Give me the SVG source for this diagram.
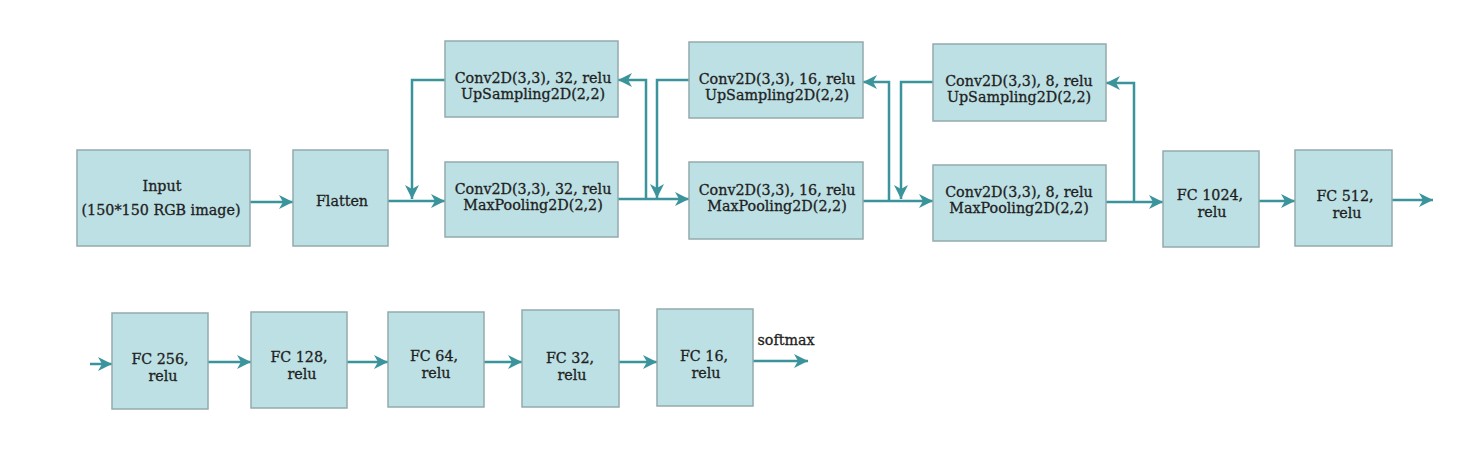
<svg xmlns="http://www.w3.org/2000/svg" width="1471" height="457" viewBox="0 0 1471 457">
<style>
.box{fill:#bde0e4;stroke:#93aaad;stroke-width:1.5}
.t{font-family:"DejaVu Serif","Liberation Serif",serif;font-size:14.3px;fill:#1e1e1e;stroke:#1e1e1e;stroke-width:0.3;text-anchor:middle}
.c{fill:none;stroke:#3b949c;stroke-width:2.5}
</style>
<defs>
<marker id="ah" markerUnits="userSpaceOnUse" markerWidth="16" markerHeight="16" refX="14" refY="8" orient="auto">
<path d="M0,1 L14,8 L0,15 L4,8 z" fill="#3b949c"/>
</marker>
</defs>
<rect width="1471" height="457" fill="#ffffff"/>
<g id="connectors">
<path class="c" marker-end="url(#ah)" d="M250,202 H293"/>
<path class="c" marker-end="url(#ah)" d="M388,201 H445"/>
<path class="c" marker-end="url(#ah)" d="M445,80 H412 V199"/>
<path class="c" marker-end="url(#ah)" d="M618,199 H689"/>
<path class="c" marker-end="url(#ah)" d="M646,199 V80 H618"/>
<path class="c" marker-end="url(#ah)" d="M689,80 H657 V198"/>
<path class="c" marker-end="url(#ah)" d="M863,201 H933"/>
<path class="c" marker-end="url(#ah)" d="M889,201 V82 H863"/>
<path class="c" marker-end="url(#ah)" d="M933,82 H901 V199"/>
<path class="c" marker-end="url(#ah)" d="M1106,202 H1163"/>
<path class="c" marker-end="url(#ah)" d="M1134,202 V83 H1106"/>
<path class="c" marker-end="url(#ah)" d="M1259,201 H1295"/>
<path class="c" marker-end="url(#ah)" d="M1392,200 H1433"/>
<path class="c" marker-end="url(#ah)" d="M90,364 H112"/>
<path class="c" marker-end="url(#ah)" d="M208,362 H251"/>
<path class="c" marker-end="url(#ah)" d="M347,362 H388"/>
<path class="c" marker-end="url(#ah)" d="M484,362 H522"/>
<path class="c" marker-end="url(#ah)" d="M619,362 H657"/>
<path class="c" marker-end="url(#ah)" d="M753,361 H808"/>
</g>
<g id="input"><rect class="box" x="77" y="150" width="173" height="96"/>
<text class="t" x="162" y="191">Input</text><text class="t" x="161" y="215">(150*150 RGB image)</text></g>
<g id="flatten"><rect class="box" x="293" y="150" width="95" height="96"/>
<text class="t" x="342" y="206">Flatten</text></g>
<g id="conv32up"><rect class="box" x="445" y="41" width="173" height="76"/>
<text class="t" x="533" y="83">Conv2D(3,3), 32, relu</text><text class="t" x="533" y="99">UpSampling2D(2,2)</text></g>
<g id="conv32pool"><rect class="box" x="445" y="162" width="173" height="75"/>
<text class="t" x="533" y="194">Conv2D(3,3), 32, relu</text><text class="t" x="533" y="210">MaxPooling2D(2,2)</text></g>
<g id="conv16up"><rect class="box" x="689" y="42" width="174" height="76"/>
<text class="t" x="777" y="84">Conv2D(3,3), 16, relu</text><text class="t" x="777" y="100">UpSampling2D(2,2)</text></g>
<g id="conv16pool"><rect class="box" x="689" y="162" width="174" height="77"/>
<text class="t" x="777" y="195">Conv2D(3,3), 16, relu</text><text class="t" x="777" y="211">MaxPooling2D(2,2)</text></g>
<g id="conv8up"><rect class="box" x="933" y="44" width="173" height="77"/>
<text class="t" x="1019" y="86">Conv2D(3,3), 8, relu</text><text class="t" x="1019" y="102">UpSampling2D(2,2)</text></g>
<g id="conv8pool"><rect class="box" x="933" y="165" width="173" height="76"/>
<text class="t" x="1019" y="197">Conv2D(3,3), 8, relu</text><text class="t" x="1019" y="213">MaxPooling2D(2,2)</text></g>
<g id="fc1024"><rect class="box" x="1163" y="151" width="96" height="96"/>
<text class="t" x="1210" y="200">FC 1024,</text><text class="t" x="1212" y="217">relu</text></g>
<g id="fc512"><rect class="box" x="1295" y="150" width="97" height="96"/>
<text class="t" x="1345" y="201">FC 512,</text><text class="t" x="1347" y="218">relu</text></g>
<g id="fc256"><rect class="box" x="112" y="313" width="96" height="96"/>
<text class="t" x="160" y="364">FC 256,</text><text class="t" x="163" y="381">relu</text></g>
<g id="fc128"><rect class="box" x="251" y="312" width="96" height="96"/>
<text class="t" x="299" y="362">FC 128,</text><text class="t" x="302" y="379">relu</text></g>
<g id="fc64"><rect class="box" x="388" y="312" width="96" height="95"/>
<text class="t" x="434" y="361">FC 64,</text><text class="t" x="436" y="378">relu</text></g>
<g id="fc32"><rect class="box" x="522" y="310" width="97" height="97"/>
<text class="t" x="570" y="363">FC 32,</text><text class="t" x="572" y="380">relu</text></g>
<g id="fc16"><rect class="box" x="657" y="309" width="96" height="97"/>
<text class="t" x="704" y="361">FC 16,</text><text class="t" x="706" y="378">relu</text></g>
<text class="t" x="786" y="345">softmax</text>
</svg>
